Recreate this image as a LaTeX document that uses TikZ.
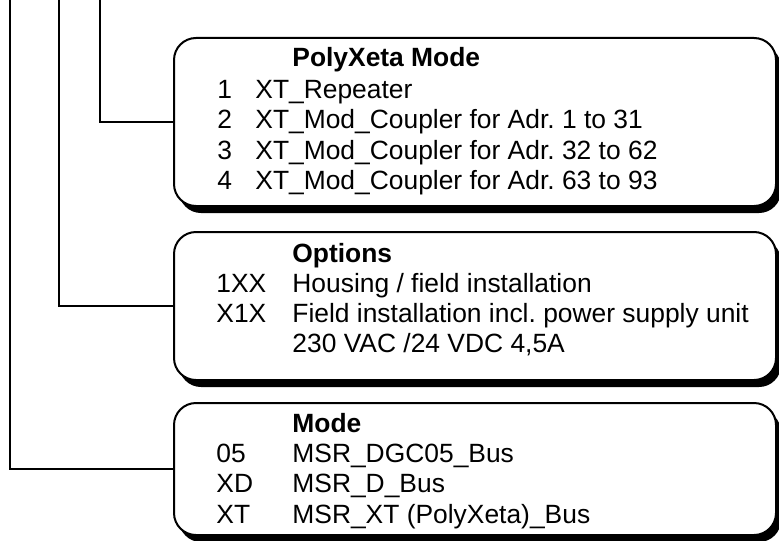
\documentclass[tikz,border=0pt]{standalone}
\usepackage{fontspec}
\setmainfont{Liberation Sans}
\usetikzlibrary{shadows}
\frenchspacing

\tikzset{
  selbox/.style={draw,line width=1pt,rounded corners=11pt,fill=white,
    anchor=north west,inner sep=0pt,outer sep=0pt,minimum width=301pt,
    drop shadow={shadow xshift=2.5pt,shadow yshift=-3.5pt,opacity=1,fill=black}},
  txt/.style={anchor=base west,inner sep=0pt,font=\fontsize{13.2}{15}\selectfont},
  lead/.style={line width=0.85pt}
}

\begin{document}
\begin{tikzpicture}[x=0.5pt,y=-0.5pt]
			\useasboundingbox (0,0) rectangle (779,540);
			% boxes
			\node[selbox,minimum height=84pt] (poly) at (174,38) {};
			\node[selbox,minimum height=74pt] (opt) at (174,232) {};
			\node[selbox,minimum height=66pt] (mode) at (174,403) {};
			% leads from the top
			\coordinate (top1) at (100,0);
			\coordinate (top2) at (59,0);
			\coordinate (top3) at (10,0);
			\draw[lead] (top1) |- (poly.west);
			\draw[lead] (top2) |- (opt.west);
			\draw[lead] (top3) |- (mode.west);
			% PolyXeta mode
			\node[txt] (p0) at (292,67) {\textbf{PolyXeta Mode}};
			\node[txt] (p1n) at (217,98) {1};
			\node[txt] (p1) at (255,98) {XT\_Repeater};
			\node[txt] (p2n) at (217,128.5) {2};
			\node[txt] (p2) at (255,128.5) {XT\_Mod\_Coupler for Adr. 1 to 31};
			\node[txt] (p3n) at (217,159) {3};
			\node[txt] (p3) at (255,159) {XT\_Mod\_Coupler for Adr. 32 to 62};
			\node[txt] (p4n) at (217,189.5) {4};
			\node[txt] (p4) at (255,189.5) {XT\_Mod\_Coupler for Adr. 63 to 93};
			% options
			\node[txt] (o0) at (292,262) {\textbf{Options}};
			\node[txt] (o1n) at (216,292) {1XX};
			\node[txt] (o1) at (292,292) {Housing / field installation};
			\node[txt] (o2n) at (216,322) {X1X};
			\node[txt] (o2) at (292,322) {Field installation incl. power supply unit};
			\node[txt] (o3) at (292,352.5) {230 VAC /24 VDC 4,5A};
			% mode
			\node[txt] (m0) at (292,432) {\textbf{Mode}};
			\node[txt] (m1n) at (216,462) {05};
			\node[txt] (m1) at (292,462) {MSR\_DGC05\_Bus};
			\node[txt] (m2n) at (216,492.5) {XD};
			\node[txt] (m2) at (292,492.5) {MSR\_D\_Bus};
			\node[txt] (m3n) at (216,523) {XT};
			\node[txt] (m3) at (292,523) {MSR\_XT (PolyXeta)\_Bus};
		\end{tikzpicture}
\end{document}
